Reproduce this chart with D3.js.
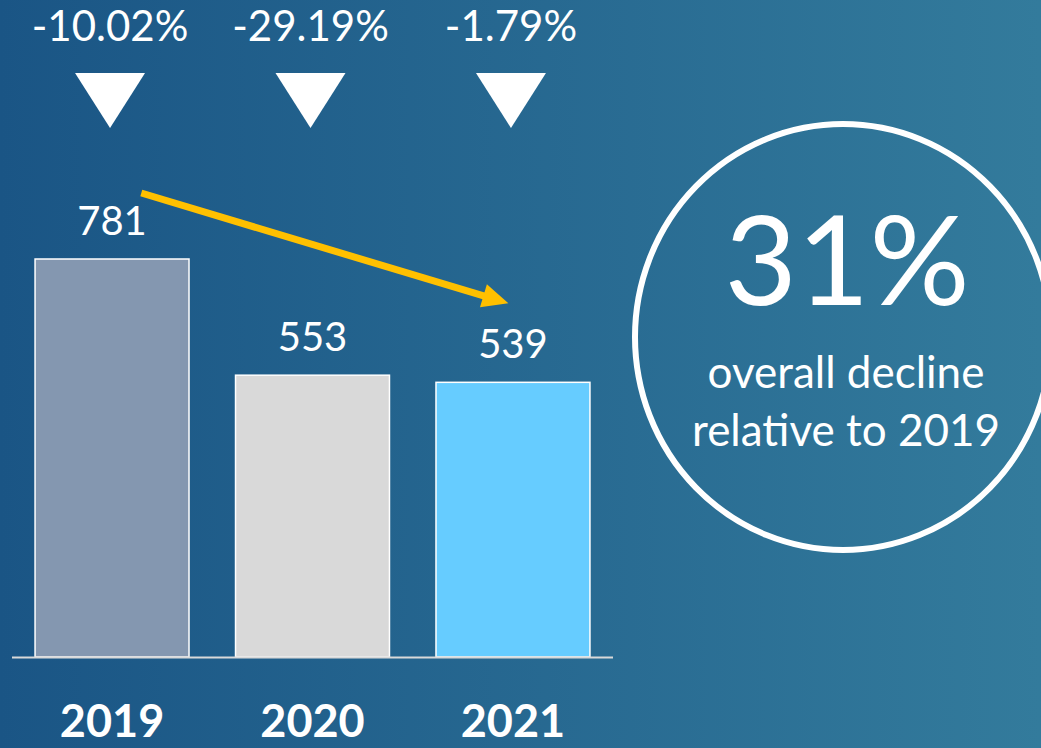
<!DOCTYPE html>
<html lang="en">
<head>
<meta charset="utf-8">
<title>Decline 2019-2021</title>
<style>
    body { margin: 0; background: #1b5786; }
    svg { display: block; font-family: Lato, "Open Sans", sans-serif; }
    .pct { fill: #fff; font-size: 42px; text-anchor: middle; }
    .val { fill: #fff; font-size: 40px; text-anchor: middle; }
    .year { fill: #fff; font-size: 45px; font-weight: bold; text-anchor: middle; }
    .big { fill: #fff; font-size: 125px; text-anchor: middle; }
    .desc { fill: #fff; font-size: 44px; text-anchor: middle; }
</style>
</head>
<body>
<script src="https://d3js.org/d3.v7.min.js"></script>
<script>
    var years = ['2019', '2020', '2021'];
    var values = [781, 553, 539];
    var changes = ['-10.02%', '-29.19%', '-1.79%'];
    var barColors = ['#8497b0', '#d9d9d9', '#66ccff'];
    var bigStat = '31%';
    var descLines = ['overall decline', 'relative to 2019'];

    var W = 1041, H = 748;

    var svg = d3.select('body').append('svg')
        .attr('width', W)
        .attr('height', H);

    var grad = svg.append('defs').append('linearGradient')
        .attr('id', 'bg')
        .attr('x1', '0%').attr('x2', '100%')
        .attr('y1', '0%').attr('y2', '0%');
    grad.append('stop').attr('offset', '0%').attr('stop-color', '#1a5585');
    grad.append('stop').attr('offset', '100%').attr('stop-color', '#337b9c');

    svg.append('rect')
        .attr('width', W).attr('height', H)
        .attr('fill', 'url(#bg)');

    var x = d3.scaleBand()
        .domain(years)
        .range([12, 613])
        .paddingInner(0.232)
        .paddingOuter(0.115);

    var y = d3.scaleLinear()
        .domain([0, 781])
        .range([657, 259]);

    // bars
    svg.append('g').selectAll('rect')
        .data(values)
        .enter().append('rect')
        .attr('x', function(d, i) { return x(years[i]); })
        .attr('y', function(d) { return y(d); })
        .attr('width', x.bandwidth())
        .attr('height', function(d) { return y(0) - y(d); })
        .attr('fill', function(d, i) { return barColors[i]; })
        .attr('stroke', '#fff')
        .attr('stroke-width', 1.5);

    // baseline
    svg.append('line')
        .attr('x1', x.range()[0]).attr('x2', x.range()[1])
        .attr('y1', y(0) + 0.5).attr('y2', y(0) + 0.5)
        .attr('stroke', '#d9d9d9')
        .attr('stroke-width', 2);

    // value labels
    svg.append('g').selectAll('text')
        .data(values)
        .enter().append('text')
        .attr('class', 'val')
        .attr('x', function(d, i) { return x(years[i]) + x.bandwidth() / 2; })
        .attr('y', function(d) { return y(d) - 24; })
        .text(function(d) { return d; });

    // year labels
    svg.append('g').selectAll('text')
        .data(years)
        .enter().append('text')
        .attr('class', 'year')
        .attr('x', function(d) { return x(d) + x.bandwidth() / 2; })
        .attr('y', 737)
        .text(function(d) { return d; });

    // change labels and down triangles
    svg.append('g').selectAll('text')
        .data(changes)
        .enter().append('text')
        .attr('class', 'pct')
        .attr('x', function(d, i) { return x(years[i]) + x.bandwidth() / 2 - 2; })
        .attr('y', 41)
        .text(function(d) { return d; });

    svg.append('g').selectAll('path')
        .data(changes)
        .enter().append('path')
        .attr('fill', '#fff')
        .attr('d', function(d, i) {
            var cx = x(years[i]) + x.bandwidth() / 2 - 2;
            return 'M' + (cx - 35) + ',73L' + (cx + 35) + ',73L' + cx + ',128Z';
        });

    // yellow trend arrow from 2019 to 2021
    var p0 = [x(years[0]) + x.bandwidth() * 0.69, y(values[0]) - 66];
    var p1 = [x(years[2]) + x.bandwidth() * 0.47, y(values[2]) - 79];
    var ang = Math.atan2(p1[1] - p0[1], p1[0] - p0[0]);
    var headLen = 26, headHalf = 12;
    var base = [p1[0] - headLen * Math.cos(ang), p1[1] - headLen * Math.sin(ang)];
    svg.append('line')
        .attr('x1', p0[0]).attr('y1', p0[1])
        .attr('x2', base[0] + 2 * Math.cos(ang)).attr('y2', base[1] + 2 * Math.sin(ang))
        .attr('stroke', '#ffc000')
        .attr('stroke-width', 7);
    svg.append('path')
        .attr('fill', '#ffc000')
        .attr('d', 'M' + p1[0] + ',' + p1[1] +
            'L' + (base[0] - headHalf * Math.sin(ang)) + ',' + (base[1] + headHalf * Math.cos(ang)) +
            'L' + (base[0] + headHalf * Math.sin(ang)) + ',' + (base[1] - headHalf * Math.cos(ang)) + 'Z');

    // circle callout
    var cg = svg.append('g');
    cg.append('ellipse')
        .attr('cx', 843).attr('cy', 337)
        .attr('rx', 208).attr('ry', 213)
        .attr('fill', 'none')
        .attr('stroke', '#fff')
        .attr('stroke-width', 6);
    cg.append('text')
        .attr('class', 'big')
        .attr('x', 847).attr('y', 305)
        .text(bigStat);
    cg.selectAll('text.desc')
        .data(descLines)
        .enter().append('text')
        .attr('class', 'desc')
        .attr('x', 846)
        .attr('y', function(d, i) { return 388 + i * 58; })
        .text(function(d) { return d; });
</script>
</body>
</html>
